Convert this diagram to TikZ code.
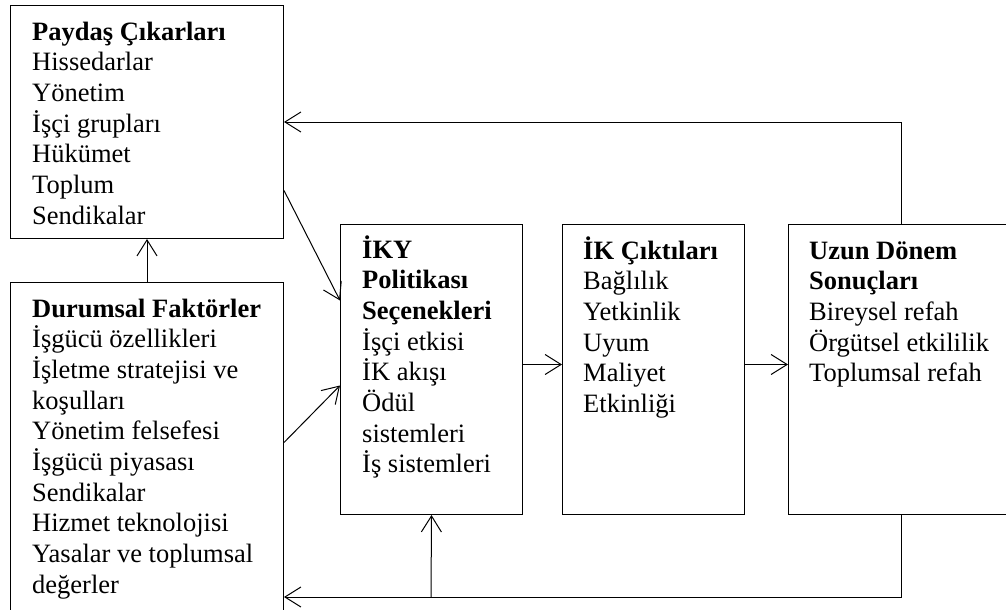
\documentclass[tikz,border=0pt]{standalone}
\usepackage{fontspec}
\setmainfont{Liberation Serif}
\usetikzlibrary{arrows.meta}
\begin{document}
\begin{tikzpicture}[x=1pt,y=-1pt,
  box/.style={draw, line width=1pt, inner sep=0pt, anchor=north west},
  txt/.style={anchor=base west, inner sep=0pt, align=left,
              font=\fontsize{26.5}{30.7}\selectfont},
  arr/.style={line width=1pt, line join=miter,
              -{Straight Barb[length=16pt,width=20pt]}}]
\useasboundingbox (0,0) rectangle (1006,610);
\clip (0,0) rectangle (1006,610);

% boxes
\node[box, minimum width=273pt, minimum height=233pt] (A) at (10,5) {};
\node[box, minimum width=273pt, minimum height=358pt] (B) at (10,282) {};
\node[box, minimum width=182pt, minimum height=290pt] (C) at (340,224) {};
\node[box, minimum width=182pt, minimum height=290pt] (D) at (562,224) {};
\node[box, minimum width=226pt, minimum height=290pt] (E) at (788,224) {};

% box contents (each node sits on the baseline of its last line)
\node[txt] (At) at (32,224.2) {\textbf{Paydaş Çıkarları}\\Hissedarlar\\Yönetim\\İşçi grupları\\Hükümet\\Toplum\\Sendikalar};
\node[txt] (Bt) at (32,593.3) {\textbf{Durumsal Faktörler}\\İşgücü özellikleri\\İşletme stratejisi ve\\koşulları\\Yönetim felsefesi\\İşgücü piyasası\\Sendikalar\\Hizmet teknolojisi\\Yasalar ve toplumsal\\değerler};
\node[txt] (Ct) at (362,472.9) {\textbf{İKY}\\\textbf{Politikası}\\\textbf{Seçenekleri}\\İşçi etkisi\\İK akışı\\Ödül\\sistemleri\\İş sistemleri};
\node[txt] (Dt) at (583,412.5) {\textbf{İK Çıktıları}\\Bağlılık\\Yetkinlik\\Uyum\\Maliyet\\Etkinliği};
\node[txt] (Et) at (809,381.8) {\textbf{Uzun Dönem}\\\textbf{Sonuçları}\\Bireysel refah\\Örgütsel etkililik\\Toplumsal refah};

% connectors
\coordinate (low) at (431,597);
\draw[arr] (B.north) -- (A.south);
\draw[arr] ([yshift=-68.5pt]A.east) -- ([yshift=69pt]C.west);
\draw[arr] ([yshift=19pt]B.east) -- ([yshift=-16pt]C.west);
\draw[arr] ([yshift=5pt]C.east) -- ([yshift=5pt]D.west);
\draw[arr] ([yshift=5pt]D.east) -- ([yshift=5pt]E.west);
\draw[arr] (E.north) |- (A.east);
\draw[arr] (E.south) |- (B.east |- low);
\draw[arr] (low) -- (C.south);
\end{tikzpicture}
\end{document}
